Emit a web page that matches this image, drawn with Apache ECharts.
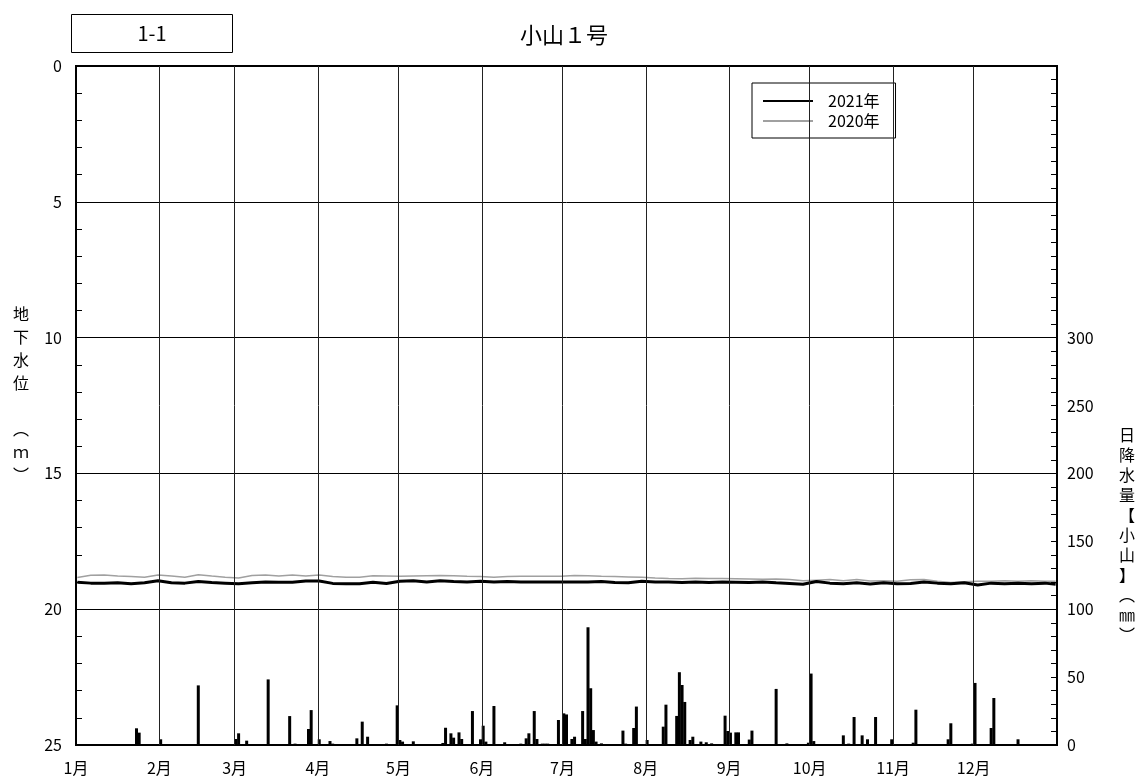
<!DOCTYPE html>
<html>
<head>
<meta charset="utf-8">
<script src="https://cdn.jsdelivr.net/npm/echarts@6/dist/echarts.min.js"></script>
<style>
html,body{margin:0;padding:0;background:#fff;}
#chart{width:1141px;height:780px;}
</style>
</head>
<body>
<div id="chart"></div>
<script>
// ---- data ----
const monthStarts = [0, 31, 59, 90, 120, 151, 181, 212, 243, 273, 304, 334];
const monthLabels = ['1月','2月','3月','4月','5月','6月','7月','8月','9月','10月','11月','12月'];

// daily rainfall (day of year, mm)
const rainDays = [23,24,32,46,60,61,64,72,80,82,87,88,91,95,96,105,107,109,116,120,121,122,126,137,138,140,141,143,144,148,151,152,153,156,160,166,168,169,171,172,174,175,176,180,182,183,185,186,189,190,191,192,193,194,196,204,205,208,209,213,219,220,224,225,226,227,229,230,233,235,237,242,243,244,246,247,251,252,261,265,273,274,275,280,286,288,290,293,295,298,304,312,313,325,326,334,335,341,342,351];
const rainMm   = [12.3,9.1,4.2,43.9,4.4,8.6,3.2,48.3,21.3,1,11.8,25.7,4.2,2.9,1,4.9,17.2,6.1,1,29.2,3.7,2.5,2.7,1.5,12.7,8.6,5.4,9.3,4.4,25,4.2,14.2,2.5,28.7,2,1,4.9,8.6,25,4.4,1,1,1,18.4,23.3,22.5,4.4,6.1,25,4.4,86.7,41.8,11,2.5,1.2,10.6,1,12.5,28.3,3.7,13.5,29.7,21.4,53.6,44.2,31.7,3.7,6.1,2.5,2,1.2,21.6,10.3,9.1,9.3,9.3,4,10.6,41.3,1.2,1.7,52.6,2.9,0.7,7.1,1,20.6,7.1,4.2,20.6,4.2,1.7,26,4.2,16,1,45.7,12.5,34.6,4.2];

// groundwater level (m below surface), sampled days
const levelDays = [1,6,11,16,21,26,31,36,41,46,51,56,61,66,71,76,81,86,91,96,101,106,111,116,121,126,131,136,141,146,151,156,161,166,171,176,181,186,191,196,201,206,211,216,221,226,231,236,241,246,251,256,261,266,271,276,281,286,291,296,301,306,311,316,321,326,331,336,341,346,351,356,361,365];
const level2021 = [19.01,19.04,19.04,19.03,19.06,19.03,18.95,19.03,19.04,18.98,19.02,19.04,19.06,19.03,19.00,19.01,19.01,18.96,18.96,19.05,19.06,19.06,19.01,19.05,18.97,18.95,19.00,18.95,18.98,19.00,18.97,19.00,18.98,19.00,19.00,19.00,19.00,19.00,19.00,18.98,19.02,19.03,18.97,19.00,19.00,19.02,19.00,19.02,19.00,19.01,19.02,19.00,19.03,19.05,19.08,18.98,19.04,19.06,19.03,19.07,19.03,19.06,19.05,19.00,19.04,19.06,19.03,19.11,19.04,19.06,19.04,19.06,19.04,19.08];
const level2020 = [18.83,18.75,18.74,18.78,18.80,18.82,18.74,18.78,18.82,18.73,18.78,18.82,18.85,18.76,18.74,18.78,18.74,18.78,18.74,18.80,18.82,18.82,18.77,18.78,18.79,18.78,18.77,18.76,18.77,18.79,18.80,18.82,18.80,18.79,18.79,18.79,18.79,18.76,18.77,18.79,18.80,18.81,18.82,18.85,18.87,18.88,18.86,18.87,18.87,18.88,18.89,18.90,18.89,18.91,18.95,18.93,18.91,18.95,18.91,18.96,18.95,18.97,18.92,18.91,18.97,19.02,18.99,18.97,18.97,18.95,18.97,18.95,18.97,18.97];

// ---- chart ----
const FONT = '"Noto Sans CJK JP", "Noto Sans", sans-serif';
const chart = echarts.init(document.getElementById('chart'), null, {renderer: 'canvas'});

const rainData = rainDays.map((d, i) => [d - 0.5, rainMm[i]]);
const data2021 = levelDays.map((d, i) => [d - 0.5, level2021[i]]);
const data2020 = levelDays.map((d, i) => [d - 0.5, level2020[i]]);

chart.setOption({
  backgroundColor: '#fff',
  animation: false,
  textStyle: {fontFamily: FONT, color: '#000'},
  title: {
    text: '小山１号',
    left: 559, top: 19, textAlign: 'center',
    textStyle: {fontFamily: FONT, fontSize: 22, fontWeight: 'normal', color: '#000'}
  },
  graphic: [
    {type: 'rect', left: 71, top: 14, shape: {width: 161, height: 38},
     style: {fill: '#fff', stroke: '#000', lineWidth: 1}},
    {type: 'text', x: 152, y: 33,
     style: {text: '1-1', font: '20px ' + FONT, fill: '#000', align: 'center', verticalAlign: 'middle'}},
    {type: 'text', x: 21, y: 302,
     style: {text: '地\n下\n水\n位\n\n︵\nｍ\n︶', font: '16px ' + FONT, fill: '#000', align: 'center', verticalAlign: 'top', lineHeight: 23}},
    {type: 'text', x: 1127, y: 425,
     style: {text: '日\n降\n水\n量\n【\n小\n山\n】\n︵\n㎜\n︶', font: '16px ' + FONT, fill: '#000', align: 'center', verticalAlign: 'top', lineHeight: 20}}
  ],
  legend: {
    left: 752, top: 83, orient: 'vertical',
    data: ['2021年', '2020年'],
    backgroundColor: '#fff', borderColor: '#000', borderWidth: 1,
    padding: [10, 16, 9, 10], itemGap: 4, itemWidth: 50, itemHeight: 17,
    itemStyle: {color: 'rgba(0,0,0,0)', borderColor: 'rgba(0,0,0,0)', borderWidth: 0},
    textStyle: {fontFamily: FONT, fontSize: 16, color: '#000', padding: [0, 0, 0, 10]}
  },
  grid: {left: 76, top: 66, width: 981, height: 679, show: true, borderColor: '#000', borderWidth: 2, backgroundColor: 'transparent'},
  xAxis: {
    type: 'value', min: 0, max: 365,
    axisLine: {show: true, lineStyle: {color: '#000', width: 2}},
    axisTick: {show: false},
    splitLine: {show: false},
    axisLabel: {
      customValues: monthStarts,
      formatter: v => monthLabels[monthStarts.indexOf(v)] || '',
      fontFamily: FONT, fontSize: 16, color: '#000', margin: 15
    }
  },
  yAxis: [
    {
      type: 'value', inverse: true, min: 0, max: 25, interval: 5, position: 'left',
      axisLine: {show: true, lineStyle: {color: '#000', width: 2}},
      axisTick: {show: true, inside: true, length: 6, lineStyle: {color: '#000'}},
      minorTick: {show: true, splitNumber: 5, length: 6, lineStyle: {color: '#000'}},
      splitLine: {show: true, lineStyle: {color: '#000', width: 1}},
      axisLabel: {fontFamily: FONT, fontSize: 16, color: '#000', margin: 14}
    },
    {
      type: 'value', min: 0, max: 500, interval: 50, position: 'right',
      axisLine: {show: true, lineStyle: {color: '#000', width: 2}},
      axisTick: {show: true, inside: true, length: 6, lineStyle: {color: '#000'}},
      minorTick: {show: true, splitNumber: 5, length: 6, lineStyle: {color: '#000'}},
      splitLine: {show: false},
      axisLabel: {fontFamily: FONT, fontSize: 16, color: '#000', margin: 10,
        formatter: v => (v <= 300 ? String(v) : '')}
    }
  ],
  series: [
    {
      name: '降水量', type: 'bar', yAxisIndex: 1, data: rainData,
      barWidth: 3, itemStyle: {color: '#000'}, silent: true,
      markLine: {
        silent: true, symbol: ['none', 'none'], label: {show: false},
        lineStyle: {color: '#222', width: 1, type: 'solid'},
        data: monthStarts.slice(1).map(v => ({xAxis: v}))
      }
    },
    {
      name: '2020年', type: 'line', yAxisIndex: 0, data: data2020,
      showSymbol: false, symbol: 'none', lineStyle: {color: '#a0a0a0', width: 1.5}, itemStyle: {color: '#a0a0a0'}
    },
    {
      name: '2021年', type: 'line', yAxisIndex: 0, data: data2021,
      showSymbol: false, symbol: 'none', lineStyle: {color: '#000', width: 3}, itemStyle: {color: '#000'}
    }
  ]
});
</script>
</body>
</html>
